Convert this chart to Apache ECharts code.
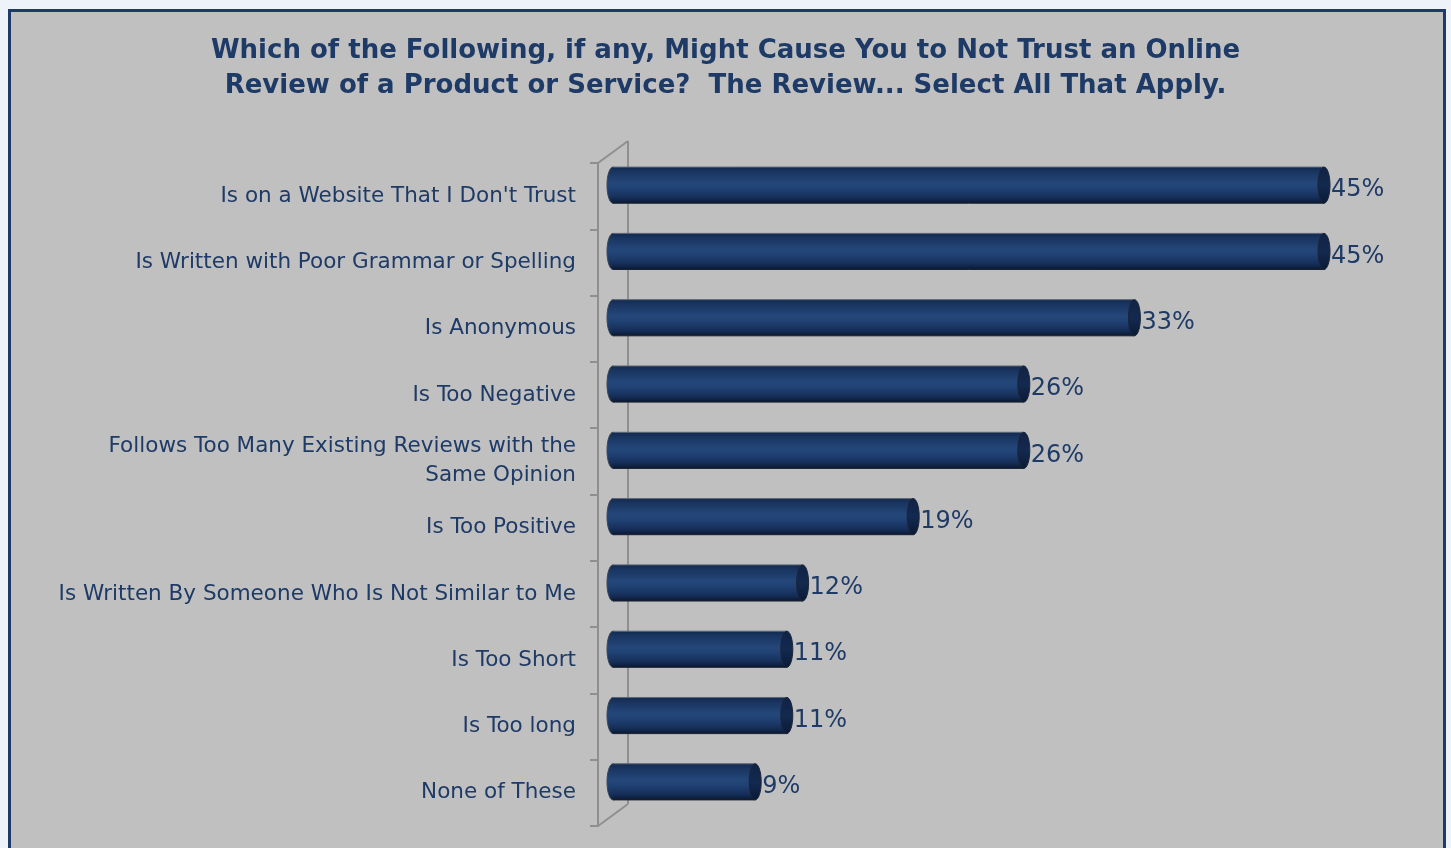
<!DOCTYPE html>
<html>
<head>
<meta charset="utf-8">
<script src="https://cdn.jsdelivr.net/npm/echarts@6/dist/echarts.min.js"></script>
<style>
  html, body { margin: 0; padding: 0; background: #eef3f9; }
  #chart { width: 1451px; height: 848px; }
</style>
</head>
<body>
<div id="chart"></div>
<script>
const categories = [
  'Is on a Website That I Don\'t Trust',
  'Is Written with Poor Grammar or Spelling',
  'Is Anonymous',
  'Is Too Negative',
  'Follows Too Many Existing Reviews with the\nSame Opinion',
  'Is Too Positive',
  'Is Written By Someone Who Is Not Similar to Me',
  'Is Too Short',
  'Is Too long',
  'None of These',
]
const values = [45, 45, 33, 26, 26, 19, 12, 11, 11, 9]
const titleLines = [
  'Which of the Following, if any, Might Cause You to Not Trust an Online',
  'Review of a Product or Service?  The Review... Select All That Apply.',
]

const navy = '#1e3a66'
const depthX = 30
const depthY = -22

const chart = echarts.init(document.getElementById('chart'))

const barFill = new echarts.graphic.LinearGradient(0, 0, 0, 1, [
  { offset: 0, color: '#132a50' },
  { offset: 0.15, color: '#1a3662' },
  { offset: 0.45, color: '#24477a' },
  { offset: 0.6, color: '#204174' },
  { offset: 0.85, color: '#152e58' },
  { offset: 1, color: '#0a1830' },
])
const capFill = new echarts.graphic.LinearGradient(0, 0, 0, 1, [
  { offset: 0, color: '#0f2344' },
  { offset: 0.5, color: '#13294f' },
  { offset: 1, color: '#0a1a34' },
])

// back wall of the fake 3d axis
function renderWall(params, api) {
  const cs = params.coordSys
  const lineStyle = { stroke: '#8f8f8f', lineWidth: 2 }
  return {
    type: 'group',
    children: [
      { type: 'line', shape: { x1: cs.x + depthX, y1: cs.y + depthY, x2: cs.x + depthX, y2: cs.y + cs.height + depthY }, style: lineStyle },
      { type: 'line', shape: { x1: cs.x, y1: cs.y, x2: cs.x + depthX, y2: cs.y + depthY }, style: lineStyle },
      { type: 'line', shape: { x1: cs.x, y1: cs.y + cs.height, x2: cs.x + depthX, y2: cs.y + cs.height + depthY }, style: lineStyle },
    ],
  }
}

// cylinder bar
function renderCylinder(params, api) {
  const idx = api.value(0)
  const start = api.coord([0, idx])
  const end = api.coord([api.value(1), idx])
  const h = api.size([0, 1])[1] * 0.545
  const cy = start[1] - 11
  const x0 = start[0] + 15
  const x1 = end[0] + 15
  const rx = 6
  return {
    type: 'group',
    children: [
      { type: 'ellipse', shape: { cx: x0, cy: cy, rx: rx, ry: h / 2 }, style: { fill: barFill, stroke: '#3b4657', lineWidth: 1 } },
      { type: 'rect', shape: { x: x0, y: cy - h / 2, width: x1 - x0, height: h }, style: { fill: barFill, stroke: null } },
      { type: 'line', shape: { x1: x0, y1: cy - h / 2, x2: x1, y2: cy - h / 2 }, style: { stroke: '#5d6677', lineWidth: 1 } },
      { type: 'line', shape: { x1: x0, y1: cy + h / 2, x2: x1, y2: cy + h / 2 }, style: { stroke: '#1b2030', lineWidth: 1 } },
      { type: 'ellipse', shape: { cx: x1, cy: cy, rx: rx, ry: h / 2 }, style: { fill: capFill, stroke: '#1b2438', lineWidth: 1 } },
      {
        type: 'text',
        style: {
          x: x1 + rx + 1, y: cy + 5,
          text: api.value(1) + '%',
          fill: navy,
          font: '24px "DejaVu Sans", sans-serif',
          verticalAlign: 'middle',
        },
      },
    ],
  }
}

const option = {
  backgroundColor: '#eef3f9',
  graphic: [
    {
      type: 'rect',
      z: -10,
      shape: { x: 9.5, y: 10.5, width: 1435, height: 860 },
      style: { fill: '#c0c0c0', stroke: '#1e3a66', lineWidth: 3 },
    },
  ],
  title: {
    text: titleLines.join('\n'),
    left: 'center',
    top: 29,
    textStyle: {
      color: navy,
      fontFamily: '"DejaVu Sans", sans-serif',
      fontWeight: 'bold',
      fontSize: 26,
      lineHeight: 35,
    },
  },
  grid: { left: 598, right: 63, top: 163, bottom: 22 },
  xAxis: {
    type: 'value',
    min: 0,
    max: 50,
    show: false,
  },
  yAxis: {
    type: 'category',
    inverse: true,
    data: categories,
    axisLine: { show: true, lineStyle: { color: '#8f8f8f', width: 2 } },
    axisTick: { show: true, length: 8, lineStyle: { color: '#8f8f8f', width: 2 } },
    axisLabel: {
      color: navy,
      fontFamily: '"DejaVu Sans", sans-serif',
      fontSize: 21.5,
      lineHeight: 29,
      margin: 22,
      align: 'right',
    },
    splitLine: { show: false },
  },
  series: [
    {
      type: 'custom',
      renderItem: renderWall,
      data: [0],
      z: 1,
      silent: true,
    },
    {
      type: 'custom',
      renderItem: renderCylinder,
      data: values.map((v, i) => [i, v]),
      encode: { x: 1, y: 0 },
      z: 2,
    },
  ],
}

chart.setOption(option)
</script>
</body>
</html>
